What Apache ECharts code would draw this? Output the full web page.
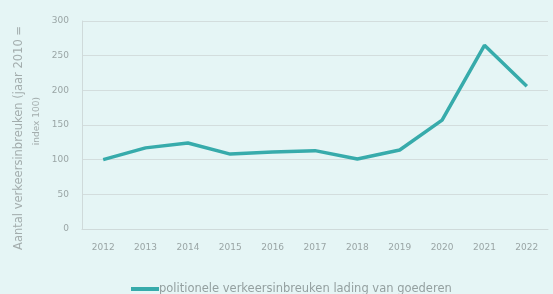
<!DOCTYPE html>
<html>
<head>
<meta charset="utf-8">
<script src="https://cdn.jsdelivr.net/npm/echarts@6/dist/echarts.min.js"></script>
<style>
  html, body { margin: 0; padding: 0; height: 100%; background: #e5f5f5; }
  #main { width: 553px; height: 294px; }
</style>
</head>
<body>
<div id="main"></div>
<script>
  var years = ['2012', '2013', '2014', '2015', '2016', '2017', '2018', '2019', '2020', '2021', '2022'];
  var values = [100, 117, 124, 108, 111, 113, 101, 114, 157, 265, 206];
  var seriesName = 'politionele verkeersinbreuken lading van goederen';
  var lastLabel = '2022';

  var teal = '#37abab';
  var grey = '#9aa5a5';

  var chart = echarts.init(document.getElementById('main'));

  var data = values.map(function (v, i) {
    if (i === values.length - 1) {
      return {
        value: v,
        label: {
          show: true, position: 'bottom', distance: 8,
          formatter: lastLabel, color: teal, fontStyle: 'italic',
          fontFamily: 'DejaVu Sans', fontSize: 9
        }
      };
    }
    return v;
  });

  chart.setOption({
    backgroundColor: '#e5f5f5',
    animation: false,
    grid: { left: 82, right: 5, top: 21, bottom: 65 },
    legend: {
      left: 126, top: 278,
      itemWidth: 28, itemHeight: 4, itemGap: 0,
      icon: 'rect',
      textStyle: { color: '#94a0a0', fontFamily: 'DejaVu Sans', fontSize: 11.5, padding: [0, 0, 0, -5] },
      data: [seriesName]
    },
    xAxis: {
      type: 'category',
      data: years,
      boundaryGap: true,
      axisLine: { lineStyle: { color: '#cfdada' } },
      axisTick: { inside: true, length: 3, lineStyle: { color: '#cfdada' } },
      axisLabel: { color: grey, fontFamily: 'DejaVu Sans', fontSize: 9, margin: 14 }
    },
    yAxis: {
      type: 'value',
      min: 0, max: 300, interval: 50,
      axisLine: { show: true, lineStyle: { color: '#cfdada' } },
      axisTick: { show: false },
      axisLabel: { color: grey, fontFamily: 'DejaVu Sans', fontSize: 9, margin: 13 },
      splitLine: { lineStyle: { color: '#d3dddd' } }
    },
    graphic: [
      {
        type: 'text', left: 13, top: 26, rotation: Math.PI / 2,
        style: { text: 'Aantal verkeersinbreuken (jaar 2010 =', fill: '#a3adad', font: '11.5px "DejaVu Sans"' }
      },
      {
        type: 'text', left: 32, top: 97, rotation: Math.PI / 2,
        style: { text: 'index 100)', fill: '#a3adad', font: '9px "DejaVu Sans"' }
      }
    ],
    series: [{
      name: seriesName,
      type: 'line',
      data: data,
      symbol: 'none',
      lineStyle: { color: teal, width: 3.5 },
      itemStyle: { color: teal }
    }]
  });
</script>
</body>
</html>
